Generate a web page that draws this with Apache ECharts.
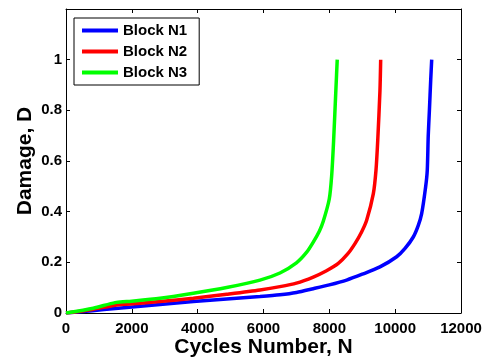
<!DOCTYPE html>
<html>
<head>
<meta charset="utf-8">
<script src="https://cdn.jsdelivr.net/npm/echarts@6/dist/echarts.min.js"></script>
<style>html,body{margin:0;padding:0;background:#fff}#c{width:486px;height:358px}</style>
</head>
<body>
<div id="c"></div>
<script>
const seriesNames = ['Block N1', 'Block N2', 'Block N3'];
const seriesColors = ['#0000ff', '#ff0000', '#00ff00'];
const xTicks = [0, 2000, 4000, 6000, 8000, 10000, 12000];
const yTicks = [0, 0.2, 0.4, 0.6, 0.8, 1];

const blockN1 = [[0,0],[800,0.009],[1500,0.018],[2855,0.034],[3868,0.045],[4880,0.055],[5893,0.065],[6500,0.072],[7000,0.081],[7512,0.096],[8000,0.111],[8525,0.130],[9000,0.153],[9538,0.182],[10045,0.222],[10300,0.255],[10550,0.300],[10700,0.345],[10805,0.392],[10925,0.497],[10975,0.563],[11005,0.700],[11040,0.800],[11080,0.920],[11110,1.0]];
const blockN2 = [[0,0],[800,0.014],[1500,0.031],[1843,0.035],[2855,0.045],[3868,0.058],[4880,0.074],[5893,0.091],[6500,0.104],[7000,0.118],[7512,0.142],[7900,0.166],[8272,0.196],[8550,0.232],[8779,0.274],[8980,0.320],[9134,0.366],[9337,0.471],[9417,0.563],[9470,0.680],[9538,0.878],[9560,1.0]];
const blockN3 = [[0,0],[830,0.019],[1490,0.041],[1843,0.045],[2855,0.058],[3868,0.078],[4880,0.101],[5893,0.130],[6500,0.158],[7000,0.198],[7300,0.238],[7512,0.280],[7700,0.324],[7816,0.362],[7998,0.450],[8070,0.540],[8130,0.680],[8202,0.890],[8240,1.0]];
const seriesData = [blockN1, blockN2, blockN3];

const font = '"Liberation Sans", Arial, sans-serif';
const chart = echarts.init(document.getElementById('c'), null, {renderer: 'canvas'});
const tickInside = {show: true, inside: true, length: 4, lineStyle: {color: '#000', width: 1}};
const lineAxis = {show: true, onZero: false, lineStyle: {color: '#000', width: 1}};
chart.setOption({
  animation: false,
  backgroundColor: '#fff',
  grid: {left: 66, right: 25, top: 9, bottom: 45, containLabel: false, outerBoundsMode: 'none'},
  legend: {
    show: true, orient: 'vertical', left: 74, top: 18,
    data: seriesNames,
    icon: 'rect', itemWidth: 36, itemHeight: 4, itemGap: 6,
    padding: [5, 12, 5, 8],
    borderColor: '#000', borderWidth: 1, backgroundColor: '#fff',
    textStyle: {fontFamily: font, fontWeight: 'bold', fontSize: 15, color: '#000'}
  },
  xAxis: [{
    type: 'value', min: xTicks[0], max: xTicks[xTicks.length - 1], interval: 2000,
    name: 'Cycles Number, N', nameLocation: 'middle', nameGap: 24, nameMoveOverlap: false,
    nameTextStyle: {fontFamily: font, fontWeight: 'bold', fontSize: 21, color: '#000'},
    axisLine: lineAxis,
    axisTick: tickInside,
    axisLabel: {fontFamily: font, fontWeight: 'bold', fontSize: 15, color: '#000', margin: 8,
      formatter: v => String(v)},
    splitLine: {show: false}
  }, {
    type: 'value', position: 'top', min: xTicks[0], max: xTicks[xTicks.length - 1], interval: 2000,
    axisLine: lineAxis,
    axisTick: tickInside, axisLabel: {show: false}, splitLine: {show: false}
  }],
  yAxis: [{
    type: 'value', min: 0, max: 1.2, interval: 0.2,
    name: 'Damage, D', nameLocation: 'middle', nameGap: 30, nameRotate: 90, nameMoveOverlap: false,
    nameTextStyle: {fontFamily: font, fontWeight: 'bold', fontSize: 21, color: '#000'},
    axisLine: lineAxis,
    axisTick: tickInside,
    axisLabel: {fontFamily: font, fontWeight: 'bold', fontSize: 15, color: '#000', margin: 4,
      formatter: v => { const t = yTicks.find(y => Math.abs(y - v) < 1e-9); return t === undefined ? '' : String(t); }},
    splitLine: {show: false}
  }, {
    type: 'value', position: 'right', min: 0, max: 1.2, interval: 0.2,
    axisLine: lineAxis,
    axisTick: tickInside, axisLabel: {show: false}, splitLine: {show: false}
  }],
  series: seriesNames.map((n, i) => ({
    name: n, type: 'line', data: seriesData[i], showSymbol: false, symbol: 'none',
    smooth: 0.25, color: seriesColors[i],
    lineStyle: {color: seriesColors[i], width: 3.5}
  }))
});
</script>
</body>
</html>
